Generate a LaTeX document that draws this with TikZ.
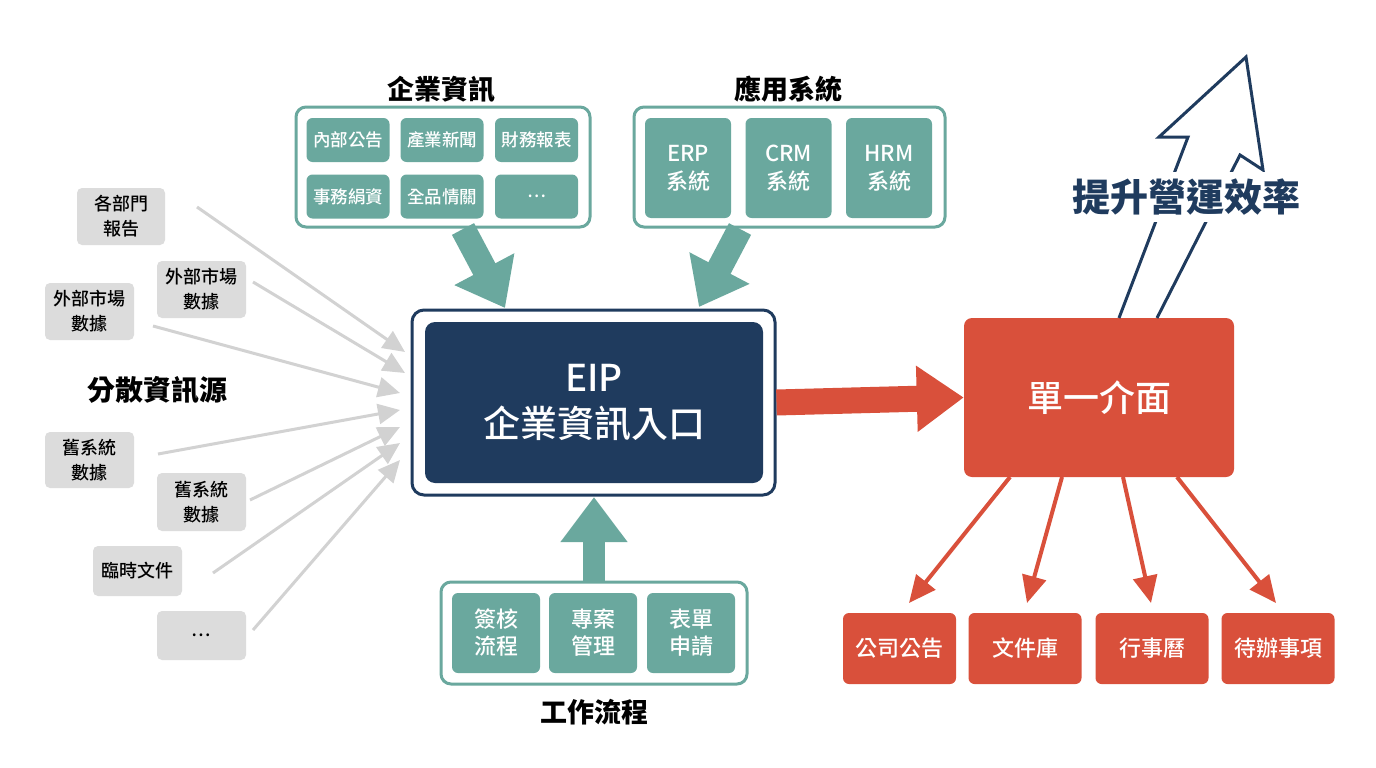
\documentclass[tikz,border=0pt]{standalone}
\usepackage{fontspec}
\setmainfont{Noto Sans CJK TC}
\newfontfamily\medfont{Noto Sans CJK TC Medium}
\usetikzlibrary{arrows.meta,calc}
\definecolor{tealc}{HTML}{6AA89E}
\definecolor{navyc}{HTML}{1F3B5E}
\definecolor{redc}{HTML}{D9503B}
\definecolor{grayc}{HTML}{DCDCDC}
\definecolor{garrow}{HTML}{D2D2D2}
\tikzset{
  wh/.style 2 args={minimum width=#1pt, minimum height=#2pt},
  frame/.style={draw=tealc, line width=3pt, rounded corners=10pt, fill=white, inner sep=0pt},
  tbox/.style={fill=tealc, rounded corners=6pt, text=white, align=center, inner sep=0pt},
  gbox/.style={fill=grayc, rounded corners=5pt, align=center, inner sep=0pt, font=\fontsize{18}{25}\selectfont\medfont},
  rbox/.style={fill=redc, rounded corners=6pt, text=white, align=center, inner sep=0pt},
  title/.style={font=\fontsize{27}{32}\selectfont\bfseries, inner sep=0pt},
  garr/.style={draw=garrow, line width=3pt, -{Triangle[width=20pt,length=22pt]}},
  fatteal/.style={draw=tealc, line width=25pt, -{Triangle[width=65pt,length=44pt]}},
  thinred/.style={draw=redc, line width=4pt, -{Triangle[width=24pt,length=27pt]}},
}
\begin{document}
\begin{tikzpicture}[x=1pt,y=-1pt]
\useasboundingbox[fill=white] (0,0) rectangle (1376,768);

% ---------- 企業資訊 ----------
\node[title] (tA) at (441,89) {企業資訊};
\node[frame, wh={294}{120}] (fA) at (443,167) {};
\begin{scope}[every node/.style={tbox, wh={83}{44}, font=\fontsize{17.5}{22}\selectfont\medfont}]
\node (a1) at (348,140) {內部公告};
\node (a2) at (442,140) {產業新聞};
\node (a3) at (536.5,140) {財務報表};
\node (a4) at (348,196.5) {事務絹資};
\node (a5) at (442,196.5) {全品情關};
\node (a6) at (536.5,196.5) {…};
\end{scope}

% ---------- 應用系統 ----------
\node[title] (tB) at (788,89) {應用系統};
\node[frame, wh={311}{120}] (fB) at (789.5,167) {};
\begin{scope}[every node/.style={tbox, wh={86}{100}, font=\fontsize{22}{28}\selectfont\medfont}]
\node (b1) at (688,168) {ERP\\系統};
\node (b2) at (788.5,168) {CRM\\系統};
\node (b3) at (889,168) {HRM\\系統};
\end{scope}

% ---------- EIP ----------
\node[draw=navyc, line width=3pt, rounded corners=12pt, fill=white, wh={363}{185}] (eipo) at (593.5,402.5) {};
\node[fill=navyc, rounded corners=10pt, wh={338}{161}, text=white, align=center,
      font=\fontsize{37}{46}\selectfont\medfont] (eip) at (594,402.5) {EIP\\企業資訊入口};

% ---------- 工作流程 ----------
\node[frame, wh={306}{102}] (fC) at (594,633) {};
\begin{scope}[every node/.style={tbox, wh={88}{80}, font=\fontsize{22}{27}\selectfont\medfont}]
\node (c1) at (496,633) {簽核\\流程};
\node (c2) at (593,633) {專案\\管理};
\node (c3) at (691,633) {表單\\申請};
\end{scope}
\node[title] (tC) at (594,712) {工作流程};

% ---------- teal arrows ----------
\coordinate (sA) at (463,229);
\coordinate (eA) at (505,308);
\coordinate (sB) at (740,229);
\coordinate (eB) at (699,307);
\coordinate (sC) at (594,582);
\coordinate (eC) at (594,497);
\draw[fatteal] (sA) -- (eA);
\draw[fatteal] (sB) -- (eB);
\draw[draw=tealc, line width=22pt, -{Triangle[width=64pt,length=45pt]}] (sC) -- (eC);

% ---------- gray sources ----------
\node[gbox, wh={88}{57}] (g1) at (121,216.5) {各部門\\報告};
\node[gbox, wh={89}{57}] (g2) at (201.5,289.5) {外部市場\\數據};
\node[gbox, wh={89}{57}] (g3) at (89.5,311.5) {外部市場\\數據};
\node[font=\fontsize{28}{32}\selectfont\bfseries, inner sep=0pt] (src) at (157,390) {分散資訊源};
\node[gbox, wh={89}{56}] (g4) at (89.5,460) {舊系統\\數據};
\node[gbox, wh={89}{58}] (g5) at (201.5,502) {舊系統\\數據};
\node[gbox, wh={89}{50}] (g6) at (137.5,571) {臨時文件};
\node[gbox, wh={89}{49}] (g7) at (201.5,635.5) {…};

\coordinate (s1) at (197,207); \coordinate (e1) at (405,352);
\coordinate (s2) at (253,282); \coordinate (e2) at (405,373);
\coordinate (s3) at (153,326); \coordinate (e3) at (400,393);
\coordinate (s4) at (158,454); \coordinate (e4) at (400,410);
\coordinate (s5) at (250,500); \coordinate (e5) at (400,427);
\coordinate (s6) at (213,573); \coordinate (e6) at (400,443);
\coordinate (s7) at (253,630); \coordinate (e7) at (400,460);
\foreach \i in {1,...,7} { \draw[garr] (s\i) -- (e\i); }

% ---------- 單一介面 ----------
\node[rbox, rounded corners=8pt, wh={270}{159}, font=\fontsize{36}{40}\selectfont\medfont] (ui) at (1099,397.5) {單一介面};
\draw[draw=redc, line width=26pt, -{Triangle[width=63pt,length=47pt]}] (eipo.east) -- (ui.west);

\begin{scope}[every node/.style={rbox, wh={113}{71}, font=\fontsize{22}{26}\selectfont\medfont}]
\node (r1) at (899.5,648.5) {公司公告};
\node (r2) at (1025,648.5) {文件庫};
\node (r3) at (1152,648.5) {行事曆};
\node (r4) at (1278,648.5) {待辦事項};
\end{scope}
\coordinate (u1) at (1010,477); \coordinate (t1) at (909,603);
\coordinate (u2) at (1062,477); \coordinate (t2) at (1027,603);
\coordinate (u3) at (1123,477); \coordinate (t3) at (1151,603);
\coordinate (u4) at (1177,477); \coordinate (t4) at (1276,603);
\foreach \i in {1,...,4} { \draw[thinred] (u\i) -- (t\i); }

% ---------- 提升營運效率 ----------
\coordinate (o1) at (1119,318);
\coordinate (o2) at (1188,137);
\coordinate (o3) at (1159,137);
\coordinate (o4) at (1246,57);
\coordinate (o5) at (1263,170);
\coordinate (o6) at (1240,155);
\coordinate (o7) at (1157,318);
\draw[navyc, line width=3pt, line join=miter] (o1) -- (o2) -- (o3) -- (o4) -- (o5) -- (o6) -- (o7);
\node[fill=white, text=navyc, inner xsep=2pt, inner ysep=7pt,
      font=\fontsize{38}{40}\selectfont\bfseries] (eff) at (1186,197) {提升營運效率};
\end{tikzpicture}
\end{document}
